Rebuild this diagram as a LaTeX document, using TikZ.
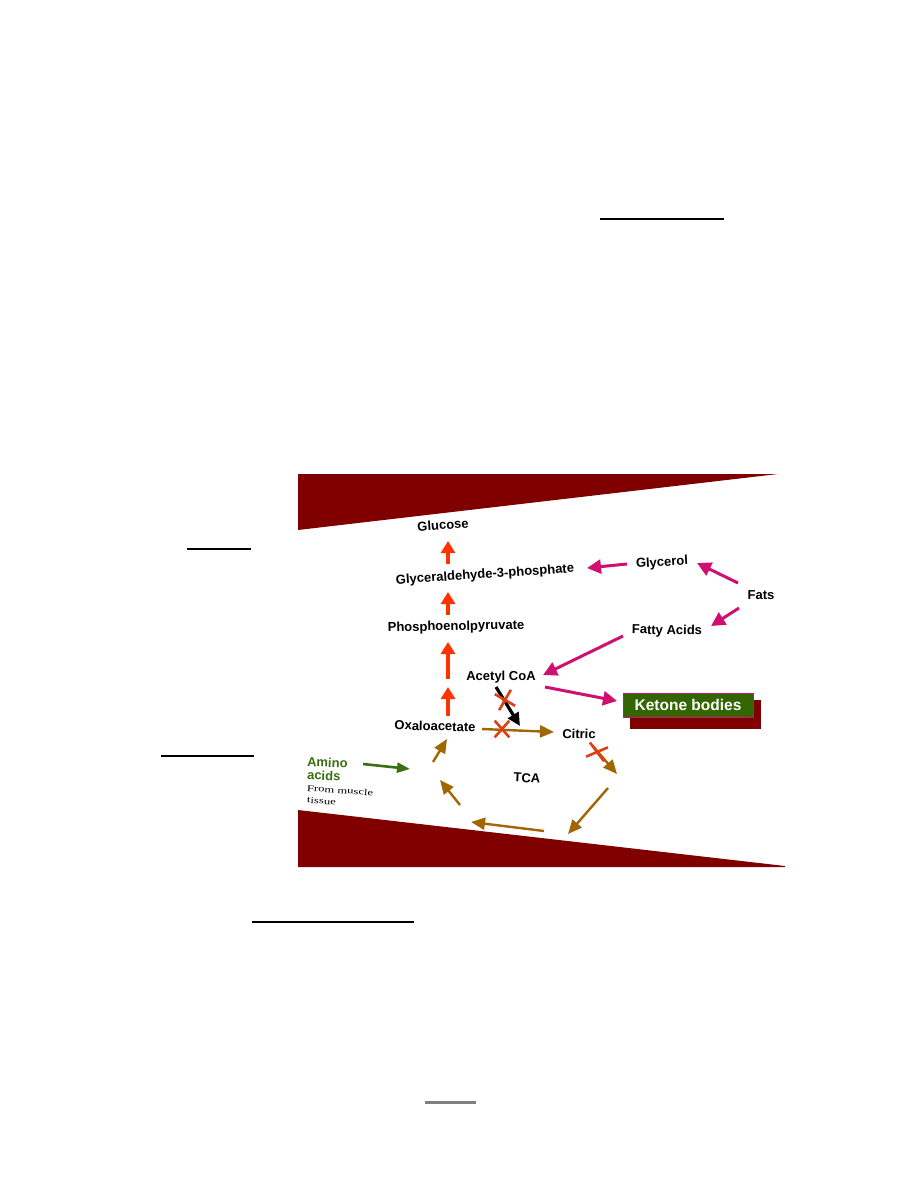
\documentclass[tikz,border=0pt]{standalone}
\usepackage{fontspec}
\setmainfont{Liberation Sans}
\newfontfamily\seriffont{Liberation Serif}
\usetikzlibrary{arrows.meta,shapes.misc}
\definecolor{banner}{RGB}{128,0,0}
\definecolor{orangered}{RGB}{255,51,0}
\definecolor{pinkarrow}{RGB}{208,16,112}
\definecolor{brownarrow}{RGB}{160,102,0}
\definecolor{greentext}{RGB}{58,112,16}
\definecolor{boxgreen}{RGB}{51,102,0}
\definecolor{xred}{RGB}{222,64,20}
\definecolor{rulegray}{RGB}{128,128,128}
\tikzset{
  lbl/.style={inner sep=0pt, font=\bfseries\fontsize{13}{15}\selectfont},
  smalltext/.style={inner sep=0pt, anchor=west, rotate=-4, font=\seriffont\fontsize{9}{10}\selectfont},
  orarrow/.style={draw=orangered, line width=3.2pt, -{Triangle[width=14pt,length=12pt]}},
  pkarrow/.style={draw=pinkarrow, line width=3pt, -{Triangle[width=14pt,length=14pt]}},
  brarrow/.style={draw=brownarrow, line width=2.4pt, -{Triangle[width=12pt,length=14pt]}},
  bkarrow/.style={draw=black, line width=3.2pt, -{Triangle[width=12pt,length=13pt]}},
  grarrow/.style={draw=greentext, line width=2.6pt, -{Triangle[width=10pt,length=13pt]}},
  xmark/.style={cross out, draw=xred, line width=2.6pt, inner sep=0pt},
  pagerule/.style={draw=black, line width=1.5pt}
}
\begin{document}
\begin{tikzpicture}[x=1pt,y=-1pt]
\useasboundingbox[fill=white] (0,0) rectangle (918,1188);

% page rules
\coordinate (r1a) at (600,219); \coordinate (r1b) at (724,219);
\coordinate (r2a) at (187,549); \coordinate (r2b) at (251,549);
\coordinate (r3a) at (161,756); \coordinate (r3b) at (254,756);
\coordinate (r4a) at (252,922); \coordinate (r4b) at (414,922);
\coordinate (r5a) at (425,1102); \coordinate (r5b) at (476,1102);
\draw[pagerule] (r1a) -- (r1b);
\draw[pagerule] (r2a) -- (r2b);
\draw[pagerule] (r3a) -- (r3b);
\draw[pagerule, line width=2pt] (r4a) -- (r4b);
\draw[draw=rulegray, line width=3pt] (r5a) -- (r5b);

% banners
\fill[banner] (298,474) -- (778,474) -- (298,530) -- cycle;
\fill[banner] (298,810) -- (785,866) -- (785,867) -- (298,867) -- cycle;

% labels
\node[lbl, rotate=4] (glc) at (443,525) {Glucose};
\node[lbl, rotate=3.8] (g3p) at (485,575) {Glyceraldehyde-3-phosphate};
\node[lbl, rotate=1.2] (pep) at (456,627) {Phosphoenolpyruvate};
\node[lbl] (acoa) at (501,677) {Acetyl CoA};
\node[lbl, rotate=-1.5] (oaa) at (435,726) {Oxaloacetate};
\node[lbl, rotate=-1.5] (cit) at (579,734) {Citric};
\node[lbl, rotate=-3] (tca) at (527,778) {TCA};
\node[lbl, rotate=3.5] (gly) at (662,563) {Glycerol};
\node[lbl] (fats) at (761,595) {Fats};
\node[lbl, rotate=-1] (fa) at (667,631) {Fatty Acids};
\node[lbl, text=greentext, anchor=west, rotate=-2] (amino) at (307,762) {Amino};
\node[lbl, text=greentext, anchor=west, rotate=-2] (acids) at (307,775) {acids};
\node[smalltext] (from) at (307,788) {\scalebox{1.4}[1]{From muscle}};
\node[smalltext] (tissue) at (307,800) {\scalebox{1.4}[1]{tissue}};

% ketone bodies box with shadow
\fill[banner] (630,700) rectangle (761,729);
\node[draw=pinkarrow, line width=1pt, fill=boxgreen, minimum width=130pt, minimum height=24pt, inner sep=0pt, text=white, font=\bfseries\fontsize{15.5}{17}\selectfont] (ket) at (688,705) {Ketone bodies};

% arrow coordinates
\coordinate (o1s) at (448,564); \coordinate (o1e) at (448,541);
\coordinate (o2s) at (448,615); \coordinate (o2e) at (448,592);
\coordinate (o3s) at (448,679); \coordinate (o3e) at (448,642);
\coordinate (o4s) at (448,716); \coordinate (o4e) at (448,687);
\draw[orarrow] (o1s) -- (o1e);
\draw[orarrow] (o2s) -- (o2e);
\draw[orarrow] (o3s) -- (o3e);
\draw[orarrow] (o4s) -- (o4e);

\coordinate (p1s) at (627,564); \coordinate (p1e) at (587,568);
\coordinate (p2s) at (738,583); \coordinate (p2e) at (697,563);
\coordinate (p3s) at (739,608); \coordinate (p3e) at (711,626);
\coordinate (p4s) at (623,636); \coordinate (p4e) at (543,675);
\coordinate (p5s) at (545,687); \coordinate (p5e) at (617,701);
\draw[pkarrow] (p1s) -- (p1e);
\draw[pkarrow] (p2s) -- (p2e);
\draw[pkarrow] (p3s) -- (p3e);
\draw[pkarrow] (p4s) -- (p4e);
\draw[pkarrow] (p5s) -- (p5e);

\coordinate (ks) at (496,687); \coordinate (ke) at (520,726);
\draw[bkarrow] (ks) -- (ke);

\coordinate (b1s) at (482,729); \coordinate (b1e) at (554,732);
\coordinate (b2s) at (592,745); \coordinate (b2e) at (617,774);
\coordinate (b3s) at (608,788); \coordinate (b3e) at (568,834);
\coordinate (b4s) at (544,831); \coordinate (b4e) at (471,822);
\coordinate (b5s) at (460,805); \coordinate (b5e) at (440,780);
\coordinate (b6s) at (433,762); \coordinate (b6e) at (447,739);
\draw[brarrow] (b1s) -- (b1e);
\draw[brarrow] (b2s) -- (b2e);
\draw[brarrow] (b3s) -- (b3e);
\draw[brarrow] (b4s) -- (b4e);
\draw[brarrow] (b5s) -- (b5e);
\draw[brarrow] (b6s) -- (b6e);

\coordinate (gs) at (363,764); \coordinate (ge) at (410,769);
\draw[grarrow] (gs) -- (ge);

% blocked marks
\node[xmark, minimum width=12pt, minimum height=14pt] (x1) at (502,729) {};
\node[xmark, minimum width=14pt, minimum height=14pt, rotate=15] (x2) at (505,700) {};
\node[xmark, minimum width=16pt, minimum height=12pt, rotate=-15] (x3) at (597,752) {};
\end{tikzpicture}
\end{document}
